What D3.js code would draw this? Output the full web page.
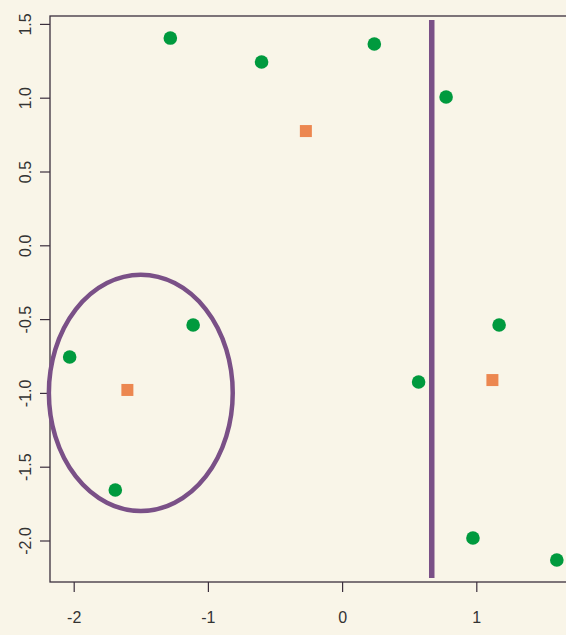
<!DOCTYPE html>
<html>
<head>
<meta charset="utf-8">
<script src="https://cdn.jsdelivr.net/npm/d3@7"></script>
<style>
  html, body { margin: 0; padding: 0; background: #f9f5e8; }
  svg { display: block; }
  text { font-family: "Liberation Sans", Arial, sans-serif; fill: #333; }
</style>
</head>
<body>
<svg id="chart" width="566" height="635"></svg>
<script>
// Observations (green dots)
const obsX = [-2.03, -1.11, -1.69, -1.28, -0.60, 0.24, 0.775, 0.57, 1.17, 0.975, 1.60];
const obsY = [-0.757, -0.54, -1.658, 1.404, 1.242, 1.364, 1.005, -0.926, -0.54, -1.983, -2.132];
// Centres (orange squares)
const ctrX = [-0.27, -1.60, 1.12];
const ctrY = [0.774, -0.98, -0.913];
// Ellipse around the left group: centre and radii in data units
const ellipseCentre = [-1.5, -1.0];
const ellipseRadii = [0.685, 0.8];
// Vertical boundary
const boundaryX = 0.668;
const boundaryY = [1.527, -2.254];
// Axis ticks
const xTicks = [-2, -1, 0, 1];
const yTicks = [1.5, 1.0, 0.5, 0.0, -0.5, -1.0, -1.5, -2.0];

const svg = d3.select("#chart");
const plotLeft = 50, plotTop = 16, plotBottom = 582, plotRight = 600;

const x = d3.scaleLinear().domain([-2, 1]).range([73.7, 476.3]);
const y = d3.scaleLinear().domain([0, 1]).range([245.3, 97.7]);

const axisCol = "#3b2f3d";
// plain hyphen-minus for negative tick labels
const fmtY = v => v.toFixed(1);
const fmtX = v => String(v);

// plot box (right edge lies outside the view)
svg.append("rect")
  .attr("x", plotLeft).attr("y", plotTop)
  .attr("width", plotRight - plotLeft).attr("height", plotBottom - plotTop)
  .attr("fill", "none").attr("stroke", axisCol).attr("stroke-width", 1.3);

// y axis, labels turned to read upwards
const yAxis = d3.axisLeft(y).tickValues(yTicks).tickFormat(fmtY).tickSize(10).tickSizeOuter(0);
const gy = svg.append("g").attr("transform", `translate(${plotLeft},0)`).call(yAxis);
gy.select(".domain").remove();
gy.selectAll("line").attr("stroke", axisCol).attr("stroke-width", 1.2);
gy.selectAll("text")
  .attr("transform", "translate(-25,0) rotate(-90)")
  .attr("x", 0).attr("y", 0).attr("dy", "0.35em")
  .attr("text-anchor", "middle")
  .style("font-size", "16px").attr("fill", "#333");

// x axis
const xAxis = d3.axisBottom(x).tickValues(xTicks).tickFormat(fmtX).tickSize(10).tickSizeOuter(0);
const gx = svg.append("g").attr("transform", `translate(0,${plotBottom})`).call(xAxis);
gx.select(".domain").remove();
gx.selectAll("line").attr("stroke", axisCol).attr("stroke-width", 1.2);
gx.selectAll("text").attr("y", 35).attr("dy", "0.35em")
  .style("font-size", "16px").attr("fill", "#333");

// ellipse
svg.append("ellipse")
  .attr("cx", x(ellipseCentre[0])).attr("cy", y(ellipseCentre[1]))
  .attr("rx", x(ellipseCentre[0] + ellipseRadii[0]) - x(ellipseCentre[0]))
  .attr("ry", y(ellipseCentre[1] - ellipseRadii[1]) - y(ellipseCentre[1]))
  .attr("fill", "none").attr("stroke", "#7a5087").attr("stroke-width", 4.5);

// vertical boundary
svg.append("line")
  .attr("x1", x(boundaryX)).attr("x2", x(boundaryX))
  .attr("y1", y(boundaryY[0])).attr("y2", y(boundaryY[1]))
  .attr("stroke", "#7a5087").attr("stroke-width", 5.5);

// observations
svg.append("g").selectAll("circle").data(obsX.map((v, i) => [v, obsY[i]]))
  .join("circle")
  .attr("cx", d => x(d[0])).attr("cy", d => y(d[1]))
  .attr("r", 6.8).attr("fill", "#009a3e");

// centres
const s = 12;
svg.append("g").selectAll("rect").data(ctrX.map((v, i) => [v, ctrY[i]]))
  .join("rect")
  .attr("x", d => x(d[0]) - s / 2).attr("y", d => y(d[1]) - s / 2)
  .attr("width", s).attr("height", s).attr("fill", "#ec8750");
</script>
</body>
</html>
